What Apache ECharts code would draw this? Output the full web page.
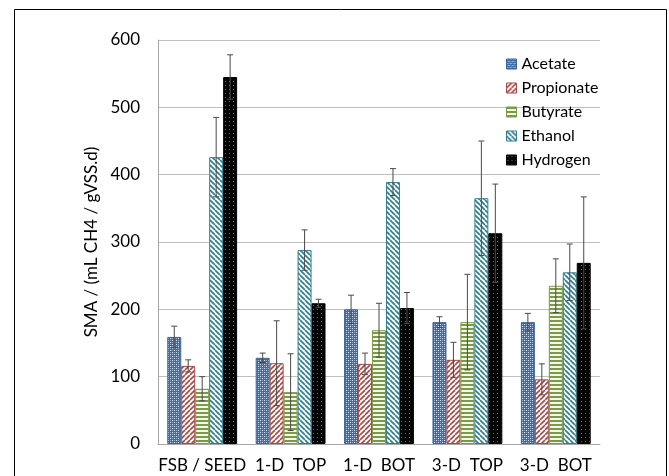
<!DOCTYPE html>
<html>
<head>
<meta charset="utf-8">
<script src="https://cdn.jsdelivr.net/npm/echarts@6/dist/echarts.min.js"></script>
<style>html,body{margin:0;padding:0;background:#fff;}#c{width:669px;height:476px;}</style>
</head>
<body>
<div id="c"></div>
<script>
const categories = ['FSB / SEED', '1-D  TOP', '1-D  BOT', '3-D  TOP', '3-D  BOT'];
const seriesNames = ['Acetate', 'Propionate', 'Butyrate', 'Ethanol', 'Hydrogen'];
const acetate    = [159, 128, 200, 181, 181];
const propionate = [116, 120, 119, 125, 96];
const butyrate   = [82, 77, 169, 181, 235];
const ethanol    = [426, 288, 389, 365, 255];
const hydrogen   = [545, 209, 202, 313, 269];
const acetateErr    = [16, 7, 21, 8, 13];
const propionateErr = [9, 63, 16, 26, 23];
const butyrateErr   = [18, 57, 40, 71, 40];
const ethanolErr    = [59, 30, 20, 85, 42];
const hydrogenErr   = [33, 6, 23, 73, 98];
const yTicks = [0, 100, 200, 300, 400, 500, 600];

const values = [acetate, propionate, butyrate, ethanol, hydrogen];
const errors = [acetateErr, propionateErr, butyrateErr, ethanolErr, hydrogenErr];

function makePattern(kind) {
  const c = document.createElement('canvas');
  const s = kind === 'ethanol' || kind === 'propionate' ? 5 : 4;
  c.width = s; c.height = s;
  const g = c.getContext('2d');
  if (kind === 'acetate') {
    g.fillStyle = '#3f6ca6'; g.fillRect(0, 0, s, s);
    g.fillStyle = '#d6e2f2';
    g.fillRect(0, 0, 1, 1); g.fillRect(2, 2, 1, 1);
    g.fillStyle = '#8fb0d8';
    g.fillRect(2, 0, 1, 1); g.fillRect(0, 2, 1, 1);
  } else if (kind === 'propionate') {
    g.fillStyle = '#ffffff'; g.fillRect(0, 0, s, s);
    g.strokeStyle = '#a54a45'; g.lineWidth = 1.6;
    for (let k = -1; k <= 1; k++) {
      g.beginPath(); g.moveTo(k * s, s); g.lineTo(k * s + s, 0); g.stroke();
    }
  } else if (kind === 'butyrate') {
    g.fillStyle = '#f4f7ee'; g.fillRect(0, 0, s, s);
    g.fillStyle = '#7c9a43'; g.fillRect(0, 0, s, 2);
  } else if (kind === 'ethanol') {
    g.fillStyle = '#ffffff'; g.fillRect(0, 0, s, s);
    g.strokeStyle = '#2f7f91'; g.lineWidth = 1.7;
    for (let k = -1; k <= 1; k++) {
      g.beginPath(); g.moveTo(k * s, 0); g.lineTo(k * s + s, s); g.stroke();
    }
  } else {
    g.fillStyle = '#050505'; g.fillRect(0, 0, s, s);
    g.fillStyle = '#6a6a6a'; g.fillRect(1, 1, 1, 1);
  }
  return c;
}
const kinds = ['acetate', 'propionate', 'butyrate', 'ethanol', 'hydrogen'];
const borders = ['#3a639b', '#a54a45', '#7c9a43', '#2f7f91', '#000000'];

const catGap = 0.21;
const nSeries = seriesNames.length;

const barSeries = seriesNames.map((name, i) => ({
  name: name,
  type: 'bar',
  barGap: '0%',
  barCategoryGap: (catGap * 100) + '%',
  data: values[i],
  itemStyle: {
    color: { image: makePattern(kinds[i]), repeat: 'repeat' },
    borderColor: borders[i],
    borderWidth: 1
  },
  emphasis: { disabled: true },
  z: 2
}));

const errData = [];
for (let i = 0; i < nSeries; i++) {
  for (let j = 0; j < categories.length; j++) {
    errData.push([j, i, values[i][j], errors[i][j]]);
  }
}

const errSeries = {
  type: 'custom',
  name: 'err',
  data: errData,
  z: 5,
  silent: true,
  encode: { x: 0, y: 2 },
  renderItem: function (params, api) {
    const cat = api.value(0), si = api.value(1), v = api.value(2), e = api.value(3);
    const band = api.size([1, 0])[0];
    const bw = band * (1 - catGap) / nSeries;
    const center = api.coord([cat, v]);
    const x = center[0] - band * (1 - catGap) / 2 + bw * (si + 0.5);
    const top = api.coord([cat, v + e])[1];
    const bot = api.coord([cat, v - e])[1];
    const cap = 3;
    const style = { stroke: '#4a4a4a', lineWidth: 1 };
    return {
      type: 'group',
      children: [
        { type: 'line', shape: { x1: x, y1: top, x2: x, y2: bot }, style: style },
        { type: 'line', shape: { x1: x - cap, y1: top, x2: x + cap, y2: top }, style: style },
        { type: 'line', shape: { x1: x - cap, y1: bot, x2: x + cap, y2: bot }, style: style }
      ]
    };
  }
};

const fontFam = 'Lato, "Open Sans", sans-serif';
const chart = echarts.init(document.getElementById('c'), null, { renderer: 'canvas' });
chart.setOption({
  animation: false,
  backgroundColor: '#ffffff',
  grid: { left: 158, right: 69, top: 40, bottom: 32, containLabel: false },
  legend: {
    orient: 'vertical',
    left: 501, top: 51,
    itemWidth: 10, itemHeight: 10, itemGap: 8,
    icon: 'rect',
    textStyle: { fontFamily: fontFam, fontSize: 16, color: '#000' },
    data: seriesNames.map((n, i) => ({
      name: n,
      itemStyle: { color: { image: makePattern(kinds[i]), repeat: 'repeat' }, borderColor: borders[i], borderWidth: 1 }
    }))
  },
  xAxis: {
    type: 'category',
    data: categories,
    axisLine: { lineStyle: { color: '#a6a6a6' } },
    axisTick: { show: false },
    axisLabel: { fontFamily: fontFam, fontSize: 17, color: '#000', margin: 13, interval: 0 }
  },
  yAxis: {
    type: 'value',
    min: yTicks[0], max: yTicks[yTicks.length - 1], interval: 100,
    name: 'SMA / (mL CH4 / gVSS.d)',
    nameLocation: 'middle',
    nameGap: 58,
    nameTextStyle: { fontFamily: fontFam, fontSize: 17, color: '#000' },
    axisLine: { show: true, lineStyle: { color: '#a6a6a6' } },
    axisTick: { show: false },
    splitLine: { lineStyle: { color: '#bfbfbf' } },
    axisLabel: { fontFamily: fontFam, fontSize: 17, color: '#000', margin: 18 }
  },
  graphic: [
    { type: 'rect', shape: { x: 14.5, y: 9.5, width: 652, height: 480 }, style: { fill: 'none', stroke: '#000', lineWidth: 1 }, silent: true, z: 100 }
  ],
  series: barSeries.concat([errSeries])
});
</script>
</body>
</html>
